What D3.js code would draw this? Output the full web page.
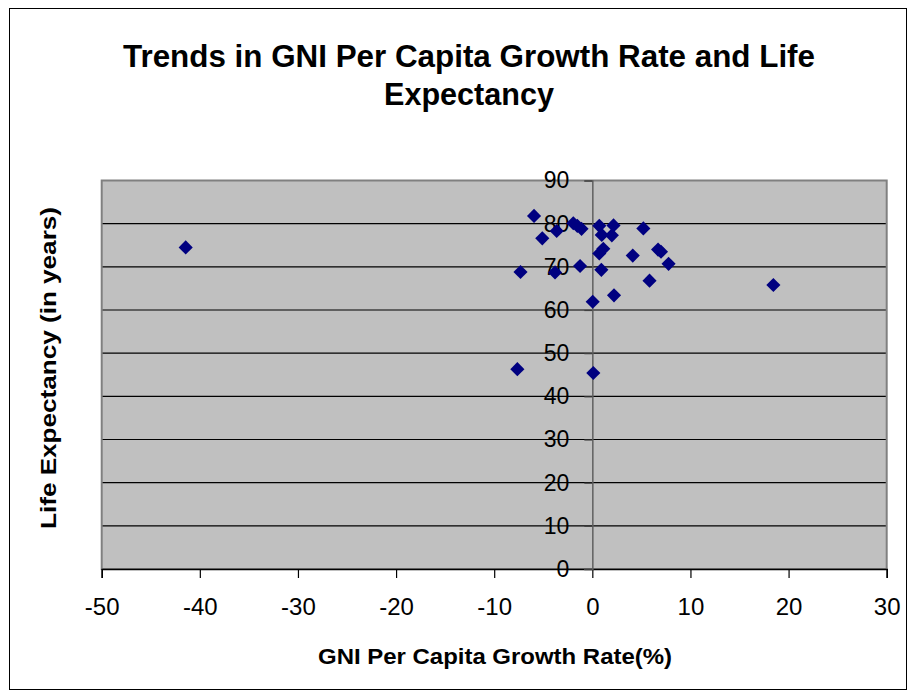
<!DOCTYPE html>
<html>
<head>
<meta charset="utf-8">
<script src="https://cdn.jsdelivr.net/npm/d3@7"></script>
<style>
  html, body { margin: 0; padding: 0; background: #fff; }
  svg { display: block; }
  text { font-family: "Liberation Sans", Arial, sans-serif; fill: #000; }
</style>
</head>
<body>
<svg id="chart" width="916" height="698"></svg>
<script>
// ---- data ----
const gniGrowth = [-5.94, -5.10, -3.63, -1.94, -1.53, -1.10, 0.71, 2.16, 0.96, 1.99,
                   5.20, 1.12, 0.71, 4.12, 6.70, 7.00, 7.77, -7.32, -3.80, -1.25,
                   0.92, 5.83, 0.04, 2.21, -7.64, 0.10, -41.44, 18.45];
const lifeExp   = [81.8, 76.6, 78.3, 80.1, 79.5, 78.8, 79.5, 79.6, 77.4, 77.3,
                   78.9, 74.2, 73.1, 72.6, 74.0, 73.5, 70.7, 68.8, 68.7, 70.2,
                   69.3, 66.8, 61.9, 63.4, 46.3, 45.4, 74.5, 65.8];
const xTicks = [-50, -40, -30, -20, -10, 0, 10, 20, 30];
const yTicks = [0, 10, 20, 30, 40, 50, 60, 70, 80, 90];
const titleLines = ["Trends in GNI Per Capita Growth Rate and Life", "Expectancy"];
const xTitle = "GNI Per Capita Growth Rate(%)";
const yTitle = "Life Expectancy (in years)";

const svg = d3.select("#chart");
const L = 101.7, R = 886.7, T = 180.5, B = 569;
const x = d3.scaleLinear().domain([-50, 30]).range([L, R]);
const y = d3.scaleLinear().domain([0, 90]).range([B, T]);
const fmt = d => String(d);

// outer frame
svg.append("rect").attr("x", 9.5).attr("y", 8.5).attr("width", 897).attr("height", 681)
  .attr("fill", "#fff").attr("stroke", "#000").attr("stroke-width", 1);

// plot area
svg.append("rect").attr("x", L).attr("y", T).attr("width", R - L).attr("height", B - T)
  .attr("fill", "#c0c0c0");

// gridlines
svg.append("g").selectAll("line").data(yTicks.filter(d => d > 0 && d < 90)).join("line")
  .attr("x1", L).attr("x2", R).attr("y1", d => y(d)).attr("y2", d => y(d))
  .attr("stroke", "#000").attr("stroke-width", 1.2);

// plot border (grey)
svg.append("rect").attr("x", L).attr("y", T).attr("width", R - L).attr("height", B - T)
  .attr("fill", "none").attr("stroke", "#808080").attr("stroke-width", 2);

// x axis at bottom
const xAxis = d3.axisBottom(x).tickValues(xTicks).tickSize(9).tickPadding(20).tickFormat(fmt);
const gx = svg.append("g").attr("transform", `translate(0,${B})`).call(xAxis);
gx.select(".domain").attr("stroke", "#000").attr("stroke-width", 1.5);
gx.selectAll(".tick line").attr("stroke", "#000").attr("stroke-width", 1.2);
gx.selectAll(".tick text").attr("font-size", 24).style("font-family", "Liberation Sans, Arial, sans-serif").attr("fill", "#000");

// y axis at x = 0
const yAxis = d3.axisLeft(y).tickValues(yTicks).tickSize(8).tickPadding(15).tickFormat(fmt);
const gy = svg.append("g").attr("transform", `translate(${x(0)},0)`).call(yAxis);
gy.select(".domain").attr("stroke", "#606060").attr("stroke-width", 1.5);
gy.selectAll(".tick line").attr("stroke", "#404040").attr("stroke-width", 1.2);
gy.selectAll(".tick text").attr("font-size", 23).style("font-family", "Liberation Sans, Arial, sans-serif").attr("fill", "#000");

// points
const sym = d3.symbol().type(d3.symbolSquare).size(100);
svg.append("g").selectAll("path").data(gniGrowth.map((g, i) => [g, lifeExp[i]])).join("path")
  .attr("d", sym)
  .attr("transform", d => `translate(${x(d[0])},${y(d[1])}) rotate(45)`)
  .attr("fill", "#000080");

// titles
svg.append("text").attr("x", 469).attr("y", 67).attr("text-anchor", "middle")
  .attr("font-size", 32).attr("font-weight", "bold")
  .attr("textLength", 692).attr("lengthAdjust", "spacingAndGlyphs")
  .text(titleLines[0]);
svg.append("text").attr("x", 469).attr("y", 105).attr("text-anchor", "middle")
  .attr("font-size", 32).attr("font-weight", "bold")
  .attr("textLength", 170).attr("lengthAdjust", "spacingAndGlyphs")
  .text(titleLines[1]);

svg.append("text").attr("x", 495).attr("y", 664).attr("text-anchor", "middle")
  .attr("font-size", 22).attr("font-weight", "bold")
  .attr("textLength", 354).attr("lengthAdjust", "spacingAndGlyphs")
  .text(xTitle);

svg.append("text").attr("transform", "translate(56,368) rotate(-90)").attr("text-anchor", "middle")
  .attr("font-size", 22).attr("font-weight", "bold")
  .attr("textLength", 322).attr("lengthAdjust", "spacingAndGlyphs")
  .text(yTitle);
</script>
</body>
</html>
